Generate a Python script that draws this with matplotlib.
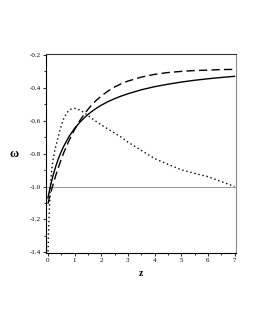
import matplotlib
matplotlib.use("Agg")
import matplotlib.pyplot as plt
from matplotlib.ticker import MultipleLocator, FormatStrFormatter

# values
z = [0, 0.1, 0.2, 0.3, 0.4, 0.5, 0.6, 0.8, 1.0, 1.2, 1.4, 1.6, 1.8, 2.0,
     2.25, 2.5, 2.75, 3.0, 3.5, 4.0, 4.5, 5.0, 5.5, 6.0, 6.5, 7.0]
w_solid = [-1.070, -0.993, -0.929, -0.875, -0.828, -0.788, -0.753, -0.694,
           -0.647, -0.609, -0.577, -0.549, -0.526, -0.506, -0.484, -0.466,
           -0.450, -0.436, -0.412, -0.393, -0.378, -0.365, -0.354, -0.345,
           -0.337, -0.330]
w_dash = [-1.105, -1.042, -0.984, -0.930, -0.881, -0.835, -0.792, -0.718,
          -0.654, -0.599, -0.552, -0.512, -0.478, -0.450, -0.420, -0.395,
          -0.375, -0.359, -0.335, -0.318, -0.307, -0.300, -0.295, -0.292,
          -0.289, -0.288]

z_dot = [0, 0.02, 0.05, 0.08, 0.1, 0.15, 0.2, 0.27, 0.33, 0.4, 0.5, 0.6,
         0.7, 0.8, 0.9, 1.0, 1.1, 1.2, 1.35, 1.5, 1.75, 2.0, 2.25, 2.5,
         2.75, 3.0, 3.5, 4.0, 4.5, 5.0, 5.5, 6.0, 6.5, 7.0]
w_dot = [-1.42, -1.30, -1.16, -1.04, -0.98, -0.89, -0.83, -0.77, -0.735,
         -0.69, -0.63, -0.585, -0.555, -0.535, -0.527, -0.525, -0.528,
         -0.535, -0.55, -0.568, -0.598, -0.625, -0.65, -0.675, -0.70,
         -0.73, -0.78, -0.83, -0.865, -0.898, -0.92, -0.94, -0.97, -1.0]

plt.rcParams["font.family"] = ["Liberation Serif", "DejaVu Serif"]
plt.rcParams["axes.unicode_minus"] = False

fig = plt.figure(figsize=(2.55, 3.3), dpi=100)
ax = fig.add_axes([0.180, 0.233, 0.745, 0.603])

ax.axhline(-1.0, color="#999999", lw=0.7, zorder=1)
ax.plot(z, w_solid, color="black", lw=1.0)
ax.plot(z, w_dash, color="black", lw=1.0, dashes=(6, 3))
ax.plot(z_dot, w_dot, color="black", lw=1.0, dashes=(1, 2))

ax.set_xlim(-0.075, 7.05)
ax.set_ylim(-1.405, -0.195)

ax.xaxis.set_major_locator(MultipleLocator(1))
ax.xaxis.set_minor_locator(MultipleLocator(0.5))
ax.yaxis.set_major_locator(MultipleLocator(0.2))
ax.yaxis.set_minor_locator(MultipleLocator(0.1))
ax.yaxis.set_major_formatter(FormatStrFormatter("%.1f"))
ax.tick_params(which="both", direction="out", labelsize=5, width=0.6, pad=1.5)
ax.tick_params(which="major", length=2.2)
ax.tick_params(which="minor", length=1.5)

ax.spines["left"].set_linewidth(0.8)
ax.spines["bottom"].set_linewidth(0.8)
ax.spines["top"].set_linewidth(0.8)
ax.spines["top"].set_color("#333333")
ax.spines["right"].set_color("#888888")
ax.spines["right"].set_linewidth(0.8)

ax.set_xlabel("z", fontsize=7, fontweight="bold", labelpad=4)
ax.set_ylabel("ω", fontsize=9, fontweight="bold", rotation=0)
ax.yaxis.set_label_coords(-0.17, 0.47)

fig.savefig("out.png", dpi=100)
